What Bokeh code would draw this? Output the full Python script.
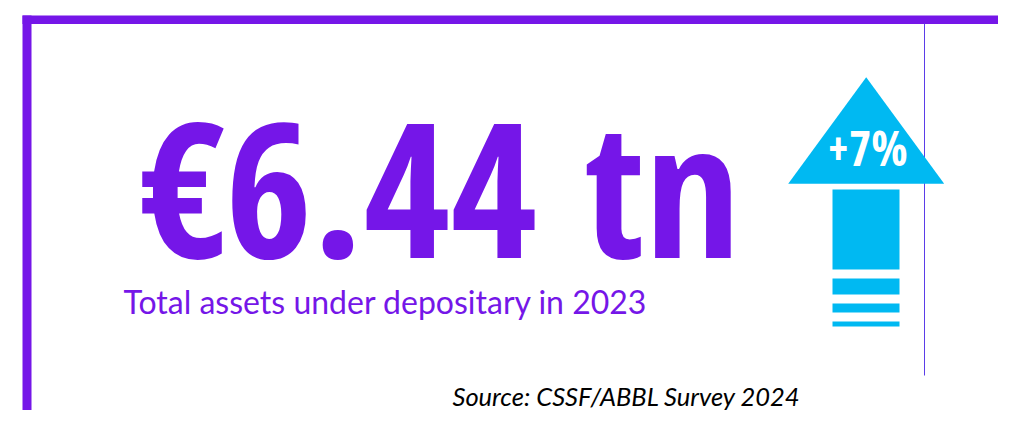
from bokeh.plotting import figure
from bokeh.models import Range1d
from bokeh.core.properties import value
from bokeh.embed import file_html
from bokeh.resources import INLINE

# ---- data ----
currency = ["€"]
total_assets = [6.44]
unit = ["tn"]
growth_pct = [7]
year = [2023]
source = ["CSSF/ABBL Survey 2024"]

PURPLE = "#7516e8"
CYAN = "#00b9f2"

W, H = 998, 410
p = figure(width=W, height=H, output_backend="svg", toolbar_location=None,
           x_range=Range1d(0, W), y_range=Range1d(H, 0),
           min_border=0, outline_line_color=None, background_fill_color="white")
p.axis.visible = False
p.grid.visible = False


def label(x, baseline, txt, size, base=0.37, **kw):
    # base: offset from the text anchor to its baseline, per px of font size
    p.text(x=[x], y=[baseline - base * size], text=[txt],
           text_font_size=f"{size}px", text_baseline="alphabetic", **kw)


# frame: top bar, left bar, thin divider
p.quad(left=[22], right=[W], top=[15], bottom=[23.5], fill_color=PURPLE, line_color=None)
p.quad(left=[22], right=[31], top=[15], bottom=[H], fill_color=PURPLE, line_color=None)
p.segment(x0=[924], y0=[23], x1=[924], y1=[375], line_color="#5b3de8", line_width=1)

# headline number
headline = f"{currency[0]}{total_assets[0]:.2f} {unit[0]}"
label(138, 258, headline, 188, base=0.39, text_color=PURPLE,
      text_font=value("Open Sans Condensed"), text_font_style="bold", text_align="left")

# subtitle
label(123, 313, f"Total assets under depositary in {year[0]}", 32,
      text_color=PURPLE, text_font=value("Lato"), text_align="left")

# arrow
p.patch(x=[865.7, 787.7, 943.7], y=[76.7, 183.3, 183.3], fill_color=CYAN, line_color=None)
p.quad(left=[832, 832, 832, 832], right=[899, 899, 899, 899],
       top=[189, 278, 303, 321], bottom=[269, 294, 312, 326],
       fill_color=CYAN, line_color=None)
label(867, 166, f"+{growth_pct[0]}%", 48, base=0.39, text_color="white",
      text_font=value("Open Sans Condensed"), text_font_style="bold", text_align="center")

# source
label(452, 405, f"Source: {source[0]}", 25.5, text_color="black",
      text_font=value("Lato"), text_font_style="italic", text_align="left")

open("out.html", "w").write(file_html(p, INLINE))
